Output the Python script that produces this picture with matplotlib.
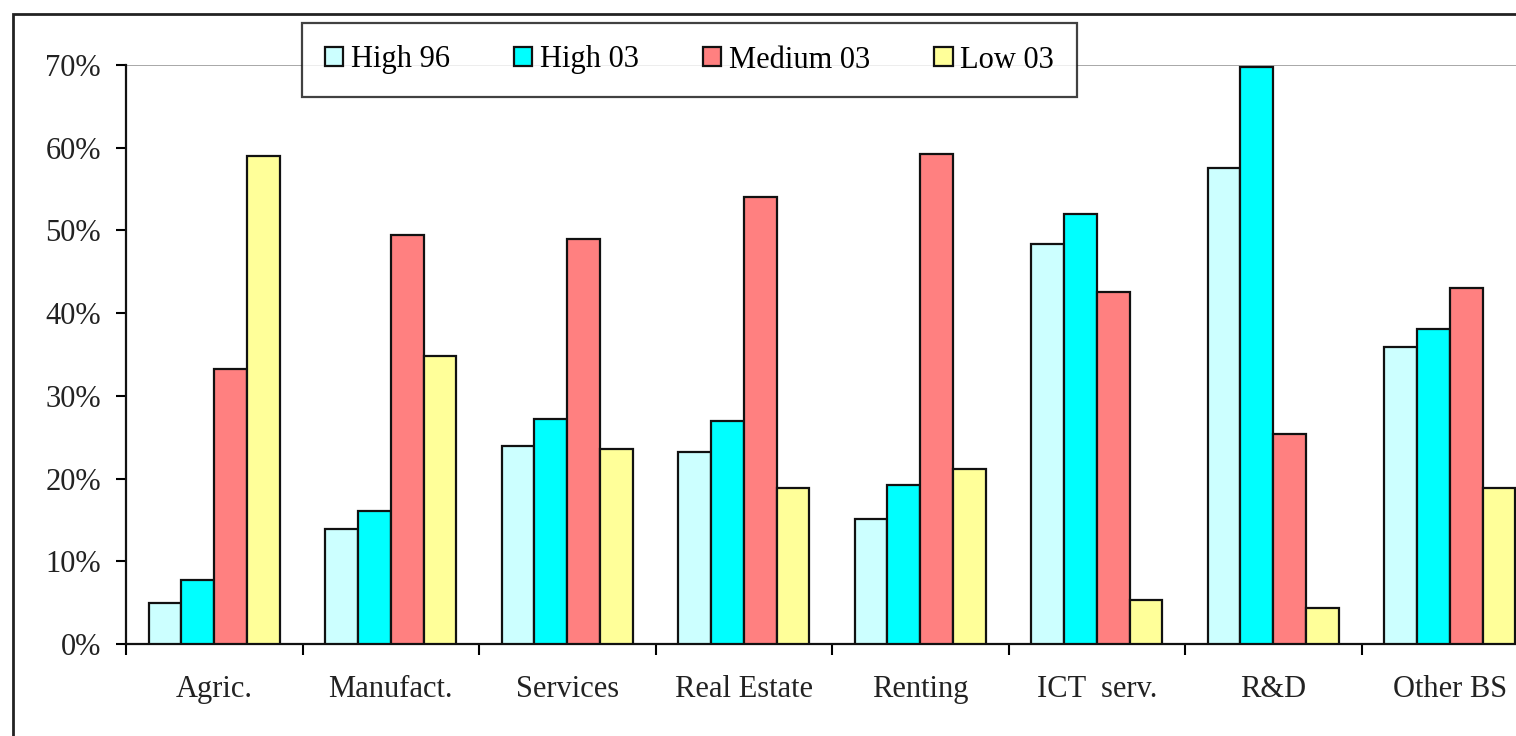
import matplotlib.pyplot as plt
from matplotlib.patches import Rectangle
from matplotlib.ticker import FuncFormatter
import numpy as np

plt.rcParams['font.family'] = ['Liberation Serif', 'DejaVu Serif']

# Данные
categories = ['Agric.', 'Manufact.', 'Services', 'Real Estate', 'Renting', 'ICT  serv.', 'R&D', 'Other BS']
series_names = ['High 96', 'High 03', 'Medium 03', 'Low 03']
high_96 = [5.0, 13.9, 23.9, 23.2, 15.1, 48.4, 57.6, 35.9]
high_03 = [7.7, 16.1, 27.2, 26.9, 19.2, 52.0, 69.8, 38.1]
medium_03 = [33.3, 49.5, 49.0, 54.0, 59.3, 42.5, 25.4, 43.0]
low_03 = [59.0, 34.8, 23.6, 18.9, 21.2, 5.3, 4.4, 18.9]
colors = ['#CCFFFF', '#00FFFF', '#FF8080', '#FFFF99']

fig = plt.figure(figsize=(15.16, 7.36), dpi=100)

# рамка вокруг диаграммы (правый и нижний края обрезаны)
fig.patches.append(Rectangle((13 / 1516, -0.1), 1.2, 0.981 + 0.1, transform=fig.transFigure,
                             fill=False, edgecolor='#222222', linewidth=2))

ax = fig.add_axes([126 / 1516, 1 - 644 / 736, 8 * 176.5 / 1516, (644 - 65) / 736])

x = np.arange(len(categories))
w = 0.186
for i, (vals, name) in enumerate(zip([high_96, high_03, medium_03, low_03], series_names)):
    ax.bar(x + 0.5 + (i - 1.5) * w, vals, w, color=colors[i], edgecolor='#111111',
           linewidth=1.6, label=name, zorder=3)

ax.set_xlim(0, len(categories))
ax.set_ylim(0, 70)
ax.axhline(70, color='#999999', linewidth=1.2, zorder=1)

ax.set_yticks(np.arange(0, 71, 10))
ax.yaxis.set_major_formatter(FuncFormatter(lambda v, p: '%d%%' % v))
ax.set_xticks(np.arange(0, len(categories) + 1))
ax.set_xticklabels([])
ax.set_xticks(x + 0.5, minor=True)
ax.set_xticklabels(categories, minor=True)
ax.tick_params(axis='x', which='minor', length=0, pad=22, labelsize=22, colors='#222222')
ax.tick_params(axis='x', which='major', length=8, width=1.5, direction='out')
ax.tick_params(axis='y', length=7, width=1.5, direction='out', labelsize=22, pad=11,
               labelcolor='#222222')

for s in ['top', 'right']:
    ax.spines[s].set_visible(False)
for s in ['left', 'bottom']:
    ax.spines[s].set_linewidth(1.6)
    ax.spines[s].set_color('#111111')

leg = fig.legend(loc='center', bbox_to_anchor=(689.5 / 1516, 1 - 60 / 736), ncol=4,
                 fontsize=22, frameon=True, fancybox=False, edgecolor='#111111',
                 handlelength=0.6, handleheight=0.6, handletextpad=0.25,
                 columnspacing=2.1, borderpad=0.75)
leg.get_frame().set_linewidth(1.6)

plt.savefig('out.png', dpi=100)
